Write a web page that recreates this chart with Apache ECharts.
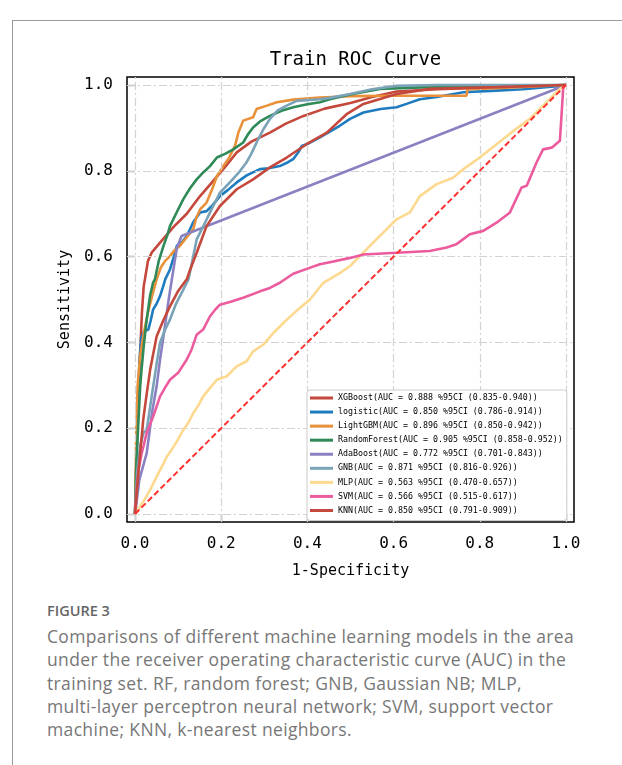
<!DOCTYPE html>
<html>
<head>
<meta charset="utf-8">
<script src="https://cdn.jsdelivr.net/npm/echarts@6/dist/echarts.min.js"></script>
<style>
  html, body { margin: 0; padding: 0; background: #fff; width: 622px; height: 765px; overflow: hidden; }
  #frame { position: absolute; left: 12px; top: 20px; width: 700px; height: 900px; border: 1px solid #9a9a9a; box-sizing: border-box; }
  #chart { position: absolute; left: 0; top: 0; width: 622px; height: 590px; }
  #fig { position: absolute; left: 47px; top: 601px; font-family: "Open Sans", Lato, sans-serif; font-size: 14.5px; font-weight: 600; color: #666; }
  #cap { position: absolute; left: 47px; top: 625px; font-family: "Open Sans", Lato, sans-serif; font-size: 17.5px; line-height: 23.3px; color: #777; white-space: nowrap; letter-spacing: 0.35px; }
</style>
</head>
<body>
<div id="frame"></div>
<div id="chart"></div>
<div id="fig">FIGURE 3</div>
<div id="cap">
  <div>Comparisons of different machine learning models in the area</div>
  <div>under the receiver operating characteristic curve (AUC) in the</div>
  <div>training set. RF, random forest; GNB, Gaussian NB; MLP,</div>
  <div>multi-layer perceptron neural network; SVM, support vector</div>
  <div>machine; KNN, k-nearest neighbors.</div>
</div>
<script>
// ---- data: [1-specificity, sensitivity] pairs ----
const modelNames = [
  "XGBoost(AUC = 0.888 %95CI (0.835-0.940))",
  "logistic(AUC = 0.850 %95CI (0.786-0.914))",
  "LightGBM(AUC = 0.896 %95CI (0.850-0.942))",
  "RandomForest(AUC = 0.905 %95CI (0.858-0.952))",
  "AdaBoost(AUC = 0.772 %95CI (0.701-0.843))",
  "GNB(AUC = 0.871 %95CI (0.816-0.926))",
  "MLP(AUC = 0.563 %95CI (0.470-0.657))",
  "SVM(AUC = 0.566 %95CI (0.515-0.617))",
  "KNN(AUC = 0.850 %95CI (0.791-0.909))"
];
const tickValues = [0, 0.2, 0.4, 0.6, 0.8, 1.0];

const xgboost = [[0,0],[0.004,0.15],[0.008,0.28],[0.012,0.38],[0.016,0.47],[0.02,0.53],[0.025,0.56],[0.03,0.59],[0.039,0.61],[0.06,0.635],[0.09,0.67],[0.12,0.70],[0.15,0.74],[0.18,0.775],[0.21,0.81],[0.236,0.843],[0.27,0.868],[0.313,0.889],[0.35,0.91],[0.391,0.928],[0.44,0.945],[0.5,0.958],[0.55,0.972],[0.607,0.985],[0.7,0.99],[0.8,0.994],[0.9,0.997],[1,1]];
const logistic = [[0,0],[0.003,0.12],[0.006,0.25],[0.01,0.35],[0.014,0.41],[0.02,0.425],[0.031,0.43],[0.036,0.45],[0.042,0.477],[0.05,0.49],[0.058,0.508],[0.065,0.53],[0.07,0.547],[0.081,0.57],[0.09,0.60],[0.097,0.625],[0.11,0.635],[0.12,0.648],[0.135,0.68],[0.151,0.703],[0.166,0.706],[0.18,0.72],[0.197,0.741],[0.215,0.755],[0.236,0.773],[0.26,0.79],[0.29,0.804],[0.31,0.806],[0.336,0.811],[0.355,0.82],[0.367,0.827],[0.38,0.845],[0.387,0.858],[0.405,0.865],[0.429,0.878],[0.45,0.89],[0.475,0.905],[0.499,0.921],[0.53,0.936],[0.57,0.944],[0.607,0.948],[0.63,0.956],[0.661,0.967],[0.7,0.972],[0.762,0.983],[0.839,0.987],[0.9,0.99],[0.98,0.997],[1,1]];
const lightgbm = [[0,0],[0.003,0.2],[0.006,0.3],[0.012,0.37],[0.02,0.42],[0.03,0.47],[0.04,0.51],[0.05,0.547],[0.06,0.575],[0.07,0.59],[0.081,0.601],[0.092,0.615],[0.104,0.625],[0.12,0.645],[0.135,0.664],[0.142,0.69],[0.151,0.71],[0.166,0.726],[0.18,0.76],[0.19,0.788],[0.205,0.811],[0.218,0.83],[0.232,0.858],[0.24,0.89],[0.251,0.917],[0.274,0.925],[0.282,0.944],[0.306,0.952],[0.329,0.96],[0.367,0.966],[0.429,0.971],[0.5,0.974],[0.6,0.975],[0.7,0.975],[0.769,0.975],[0.772,0.99],[0.85,0.993],[1,1]];
const randomForest = [[0,0],[0.003,0.12],[0.008,0.22],[0.012,0.3],[0.015,0.336],[0.02,0.39],[0.027,0.453],[0.035,0.51],[0.042,0.54],[0.046,0.547],[0.055,0.59],[0.066,0.625],[0.075,0.65],[0.081,0.671],[0.095,0.70],[0.112,0.734],[0.128,0.76],[0.143,0.78],[0.16,0.798],[0.174,0.811],[0.19,0.831],[0.21,0.84],[0.228,0.85],[0.251,0.866],[0.262,0.885],[0.274,0.901],[0.29,0.915],[0.313,0.928],[0.34,0.94],[0.367,0.948],[0.4,0.955],[0.429,0.96],[0.452,0.967],[0.499,0.978],[0.568,0.991],[0.68,0.995],[0.8,0.997],[1,1]];
const adaBoost = [[0,0],[0.01,0.08],[0.027,0.142],[0.04,0.24],[0.05,0.297],[0.058,0.36],[0.066,0.414],[0.078,0.5],[0.089,0.57],[0.097,0.62],[0.108,0.648],[1,1]];
const gnb = [[0,0],[0.005,0.1],[0.012,0.16],[0.02,0.19],[0.027,0.196],[0.035,0.25],[0.042,0.297],[0.05,0.35],[0.058,0.40],[0.07,0.43],[0.081,0.453],[0.095,0.49],[0.112,0.523],[0.124,0.547],[0.135,0.6],[0.143,0.64],[0.158,0.67],[0.174,0.703],[0.185,0.725],[0.197,0.749],[0.22,0.773],[0.24,0.795],[0.259,0.82],[0.27,0.84],[0.282,0.866],[0.298,0.897],[0.313,0.921],[0.33,0.94],[0.352,0.952],[0.375,0.963],[0.429,0.967],[0.452,0.97],[0.499,0.979],[0.55,0.99],[0.607,0.998],[0.7,1],[1,1]];
const mlp = [[0,0],[0.01,0.015],[0.02,0.03],[0.035,0.056],[0.05,0.087],[0.062,0.11],[0.074,0.134],[0.085,0.15],[0.097,0.169],[0.112,0.196],[0.125,0.215],[0.135,0.235],[0.148,0.255],[0.158,0.274],[0.175,0.295],[0.19,0.313],[0.213,0.321],[0.236,0.344],[0.259,0.356],[0.274,0.379],[0.298,0.395],[0.321,0.422],[0.352,0.453],[0.383,0.481],[0.406,0.5],[0.437,0.539],[0.476,0.562],[0.499,0.578],[0.522,0.601],[0.545,0.625],[0.584,0.664],[0.607,0.687],[0.638,0.703],[0.661,0.741],[0.7,0.769],[0.738,0.784],[0.762,0.804],[0.8,0.831],[0.839,0.862],[0.878,0.893],[0.916,0.921],[0.947,0.952],[0.986,0.991],[1,1]];
const svm = [[0,0],[0.003,0.05],[0.008,0.103],[0.015,0.14],[0.02,0.16],[0.027,0.189],[0.042,0.227],[0.058,0.274],[0.07,0.295],[0.081,0.313],[0.1,0.329],[0.12,0.36],[0.131,0.383],[0.143,0.418],[0.158,0.43],[0.174,0.461],[0.185,0.475],[0.197,0.488],[0.22,0.494],[0.251,0.504],[0.29,0.519],[0.313,0.527],[0.336,0.539],[0.367,0.56],[0.4,0.572],[0.429,0.582],[0.452,0.587],[0.499,0.597],[0.53,0.605],[0.607,0.609],[0.684,0.613],[0.723,0.621],[0.746,0.629],[0.777,0.652],[0.808,0.66],[0.839,0.679],[0.87,0.703],[0.897,0.761],[0.909,0.765],[0.932,0.82],[0.947,0.85],[0.967,0.854],[0.986,0.87],[0.994,0.998],[1,1]];
const knn = [[0,0],[0.008,0.10],[0.019,0.22],[0.027,0.28],[0.035,0.336],[0.05,0.414],[0.065,0.45],[0.081,0.484],[0.1,0.52],[0.12,0.547],[0.128,0.57],[0.143,0.609],[0.166,0.671],[0.197,0.718],[0.236,0.757],[0.274,0.78],[0.313,0.808],[0.352,0.831],[0.398,0.862],[0.445,0.889],[0.491,0.932],[0.53,0.956],[0.607,0.979],[0.684,0.991],[0.84,0.995],[1,1]];
const chanceLine = [[0,0],[1,1]];

const modelData = [xgboost, logistic, lightgbm, randomForest, adaBoost, gnb, mlp, svm, knn];
const modelColors = ["#c4483b", "#1f7bbf", "#e8903a", "#2f8a57", "#8a80c2", "#7aa3b8", "#fcd98e", "#ec5b9e", "#c4483b"];

const mono = "DejaVu Sans Mono";

// grid lines at the tick values, drawn as mark lines through the axes
const gridLines = [];
tickValues.forEach(v => { gridLines.push({ xAxis: v }); gridLines.push({ yAxis: v }); });

const series = [{
  name: "grid",
  type: "line",
  data: [],
  z: 1,
  markLine: {
    silent: true, symbol: "none", animation: false,
    label: { show: false },
    lineStyle: { color: "#d2d2d2", width: 1.2, type: [8, 3, 2, 3] },
    emphasis: { disabled: true },
    data: gridLines
  }
}];
modelData.forEach((d, i) => series.push({
  name: modelNames[i],
  type: "line",
  data: d,
  showSymbol: false,
  symbol: "none",
  lineStyle: { color: modelColors[i], width: 2.6 },
  itemStyle: { color: modelColors[i] },
  z: 2 + i,
  animation: false
}));
series.push({
  name: "chance",
  type: "line",
  data: chanceLine,
  showSymbol: false,
  symbol: "none",
  lineStyle: { color: "#ff3030", width: 2, type: [6, 3] },
  z: 20,
  animation: false
});

const chart = echarts.init(document.getElementById("chart"), null, { renderer: "canvas" });
chart.setOption({
  animation: false,
  backgroundColor: "transparent",
  title: {
    text: "Train ROC Curve",
    left: 350.5, top: 46, textAlign: "center",
    textStyle: { fontFamily: mono, fontSize: 19, fontWeight: "normal", color: "#000" }
  },
  grid: { left: 127, top: 77, width: 447, height: 445, show: true, borderColor: "#000", borderWidth: 1.5, backgroundColor: "transparent" },
  legend: {
    data: modelNames,
    orient: "vertical",
    left: 307, top: 390,
    z: 30,
    padding: [3, 4, 5, 3],
    itemWidth: 23, itemHeight: 3, itemGap: 4.06,
    icon: "rect",
    backgroundColor: "#ffffff",
    borderColor: "#cccccc", borderWidth: 1, borderRadius: 3,
    textStyle: { fontFamily: mono, fontSize: 8.3, lineHeight: 10, color: "#000" }
  },
  xAxis: {
    type: "value", min: -0.0187, max: 1.0187,
    name: "1-Specificity", nameLocation: "middle", nameGap: 42,
    nameTextStyle: { fontFamily: mono, fontSize: 15, color: "#000" },
    axisLine: { show: false },
    axisTick: { show: true, customValues: tickValues, length: 7, inside: false, lineStyle: { color: "#000", width: 1.2 } },
    axisLabel: { customValues: tickValues, formatter: v => v.toFixed(1), fontFamily: mono, fontSize: 16, color: "#000", margin: 14 },
    splitLine: { show: false }
  },
  yAxis: {
    type: "value", min: -0.0187, max: 1.0187,
    name: "Sensitivity", nameLocation: "middle", nameGap: 54, nameRotate: 90,
    nameTextStyle: { fontFamily: mono, fontSize: 15, color: "#000" },
    axisLine: { show: false },
    axisTick: { show: true, customValues: tickValues, length: 7, inside: false, lineStyle: { color: "#000", width: 1.2 } },
    axisLabel: { customValues: tickValues, formatter: v => v.toFixed(1), fontFamily: mono, fontSize: 16, color: "#000", margin: 14 },
    splitLine: { show: false }
  },
  series: series
});
</script>
</body>
</html>
